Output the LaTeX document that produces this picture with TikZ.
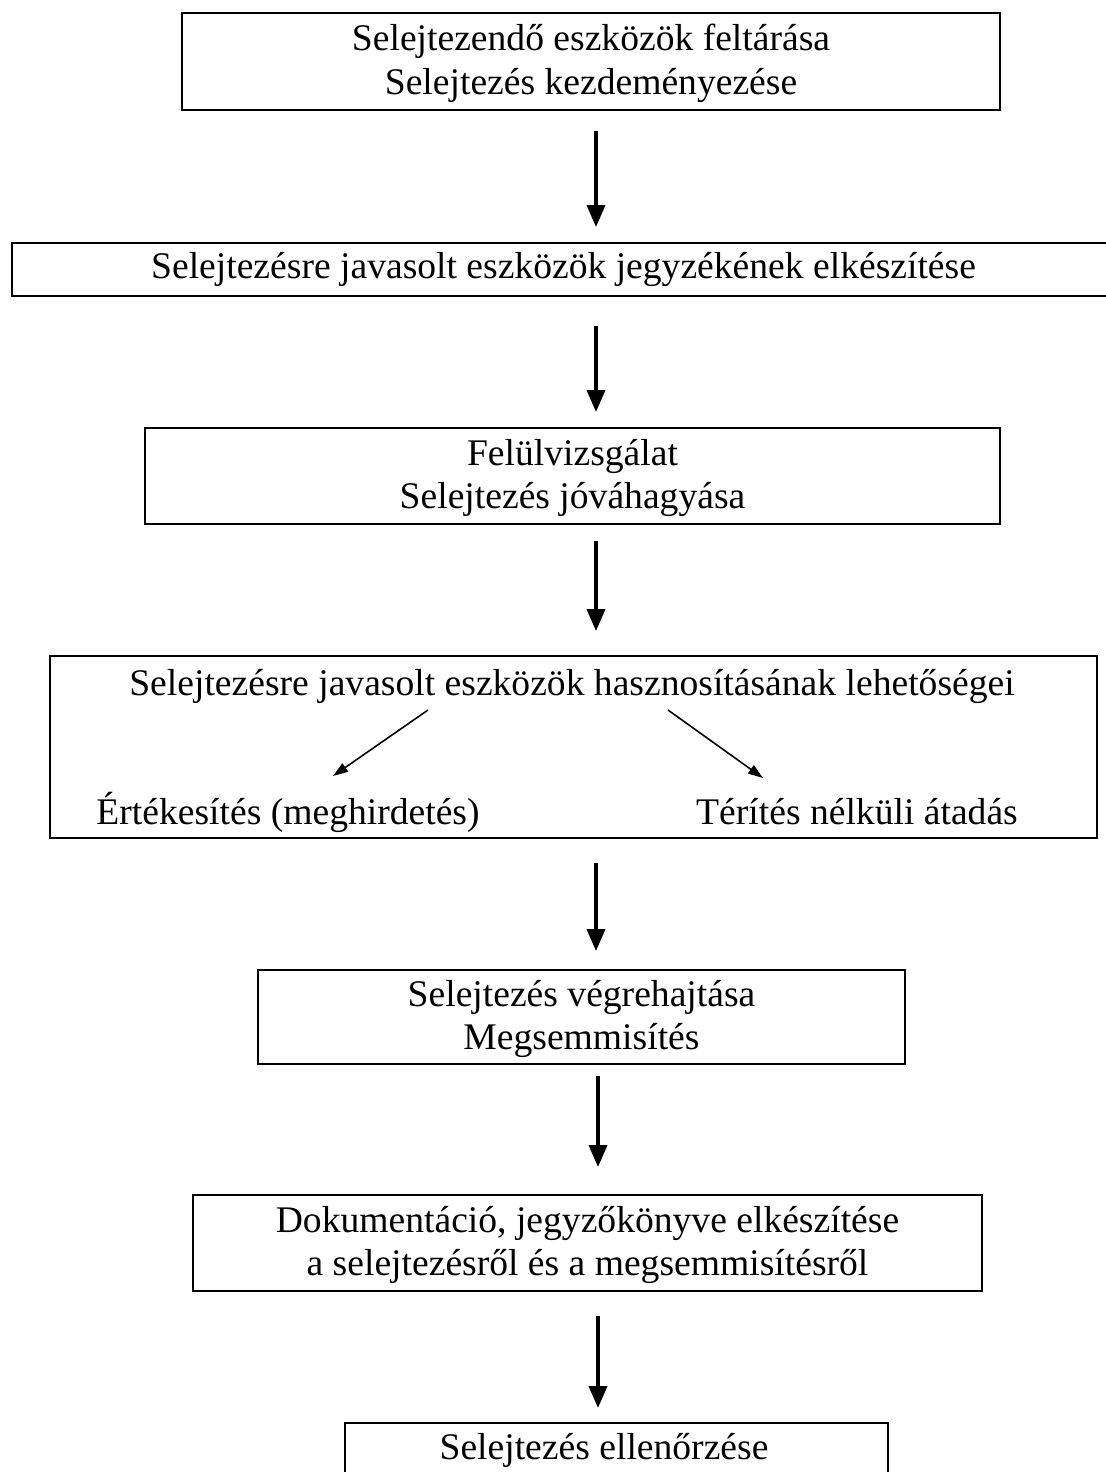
\documentclass[tikz,border=0pt]{standalone}
\usepackage{fontspec}
\setmainfont{Liberation Serif}
\usetikzlibrary{arrows.meta, positioning, calc}

\begin{document}
\begin{tikzpicture}[
    x=0.02cm, y=-0.02cm,
    box/.style={rectangle, draw, line width=1.1pt, inner sep=0pt, align=center, font=\fontsize{21.4}{24.6}\selectfont},
    lbl/.style={inner sep=0pt, font=\fontsize{21.4}{24.6}\selectfont},
    arrow/.style={-{Triangle[length=0.44cm, width=0.36cm]}, line width=2.2pt},
    thinarrow/.style={-{Triangle[length=0.3cm, width=0.2cm]}, line width=0.9pt}
]
\useasboundingbox (0,0) rectangle (1106,1472);

\node[box, minimum width=16.36cm, minimum height=1.94cm] (feltar) at (591,61.5)
    {\strut Selejtezendő eszközök feltárása\\Selejtezés kezdeményezése};
\node[box, minimum width=22.06cm, minimum height=1.06cm] (jegyzek) at (563.5,269.5)
    {Selejtezésre javasolt eszközök jegyzékének elkészítése};
\node[box, minimum width=17.10cm, minimum height=1.92cm] (felulv) at (572.5,476)
    {\strut Felülvizsgálat\\Selejtezés jóváhagyása};
\node[box, minimum width=20.94cm, minimum height=3.64cm] (hasznos) at (573.5,747) {};
\node[box, minimum width=12.94cm, minimum height=1.88cm] (vegreh) at (581.5,1017)
    {\strut Selejtezés végrehajtása\\Megsemmisítés};
\node[box, minimum width=15.78cm, minimum height=1.92cm] (dokum) at (587.5,1243)
    {\strut Dokumentáció, jegyzőkönyve elkészítése\\a selejtezésről és a megsemmisítésről};
\node[box, minimum width=10.86cm, minimum height=2cm, anchor=north] (ellen) at (616.5,1422) {};

% texts of the split box
\node[lbl] (lehet) at (572,686) {Selejtezésre javasolt eszközök hasznosításának lehetőségei};
\node[lbl] (ertek) at (288,812) {Értékesítés (meghirdetés)};
\node[lbl] (terit) at (857,812) {Térítés nélküli átadás};
\node[lbl] (ellentxt) at (604,1450) {Selejtezés ellenőrzése};

\coordinate (ax) at (596,0);
\coordinate (bx) at (598,0);

\draw[arrow, shorten <=0.4cm, shorten >=0.3cm] (feltar.south -| ax) -- (jegyzek.north -| ax);
\draw[arrow, shorten <=0.58cm, shorten >=0.3cm] (jegyzek.south -| ax) -- (felulv.north -| ax);
\draw[arrow, shorten <=0.32cm, shorten >=0.48cm] (felulv.south -| ax) -- (hasznos.north -| ax);
\draw[arrow, shorten <=0.48cm, shorten >=0.36cm] (hasznos.south -| ax) -- (vegreh.north -| ax);
\draw[arrow, shorten <=0.22cm, shorten >=0.54cm] (vegreh.south -| bx) -- (dokum.north -| bx);
\draw[arrow, shorten <=0.48cm, shorten >=0.28cm] (dokum.south -| bx) -- (ellen.north -| bx);

\draw[thinarrow] ($(lehet.center)+(-144,24)$) -- ($(ertek.center)+(45,-36)$);
\draw[thinarrow] ($(lehet.center)+(96,24)$) -- ($(terit.center)+(-94,-34)$);
\end{tikzpicture}
\end{document}
